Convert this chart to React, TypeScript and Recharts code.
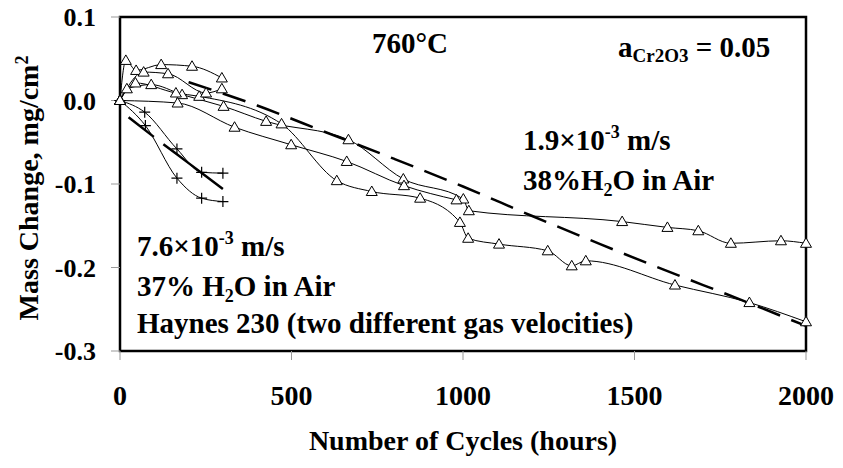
import React from 'react';
import { LineChart, Line, XAxis, YAxis, ReferenceArea } from 'recharts';

type Pair = [number, number];

const xTicks = [0, 500, 1000, 1500, 2000];
const yTicks = [-0.3, -0.2, -0.1, 0, 0.1];

// 1.9e-3 m/s, 38% H2O in air (triangles)
const slowRunA: Pair[] = [
  [0, 0], [20, 0.014], [91, 0.019], [181, 0.007], [302, -0.007], [426, -0.025],
  [666, -0.047], [826, -0.094], [1001, -0.118], [1017, -0.132], [1464, -0.145],
  [1596, -0.152], [1686, -0.156], [1781, -0.171], [1927, -0.168], [2000, -0.171],
];
const slowRunB: Pair[] = [
  [0, 0], [45, 0.021], [163, 0.009], [231, 0.005], [471, -0.028], [632, -0.096],
  [734, -0.109], [875, -0.117], [991, -0.146], [1015, -0.165], [1105, -0.172],
  [1247, -0.18], [1317, -0.198], [1358, -0.192], [1618, -0.221], [1835, -0.242],
  [2000, -0.265],
];
const slowRunC: Pair[] = [
  [0, 0], [168, -0.003], [334, -0.032], [499, -0.053], [661, -0.073], [828, -0.102],
  [981, -0.119],
];
const slowRunD: Pair[] = [
  [0, 0], [17, 0.048], [47, 0.036], [120, 0.043], [210, 0.041], [297, 0.027],
];
const slowRunE: Pair[] = [
  [0, 0], [69, 0.034], [140, 0.032], [251, 0.009], [297, 0.014],
];

// 7.6e-3 m/s, 37% H2O in air (crosses)
const fastRunA: Pair[] = [[0, 0], [72, -0.014], [166, -0.058], [238, -0.086], [300, -0.087]];
const fastRunB: Pair[] = [[0, 0], [74, -0.03], [166, -0.093], [238, -0.117], [300, -0.121]];

// fitted curves (dashed)
const slowFit: Pair[] = [
  [200, 0.022], [400, -0.006], [600, -0.038], [800, -0.07], [1000, -0.103],
  [1200, -0.138], [1400, -0.172], [1600, -0.205], [1800, -0.237], [2000, -0.27],
];
const fastFit: Pair[] = [[25, -0.02], [100, -0.044], [200, -0.075], [300, -0.106]];

const toRows = (pts: Pair[]) => pts.map(([x, y]) => ({ x, y }));

const serif = '"Liberation Serif", "Times New Roman", serif';

const Triangle = (props: any) => {
  const { cx, cy, index } = props;
  if (cx == null || cy == null) return null;
  return (
    <polygon
      key={`t-${index}`}
      points={`${cx},${cy - 5.5} ${cx - 5.5},${cy + 4} ${cx + 5.5},${cy + 4}`}
      fill="#fff"
      stroke="#000"
      strokeWidth={1}
    />
  );
};

const Cross = (props: any) => {
  const { cx, cy, index } = props;
  if (cx == null || cy == null) return null;
  return (
    <path
      key={`c-${index}`}
      d={`M${cx - 5.5},${cy}H${cx + 5.5}M${cx},${cy - 5.5}V${cy + 5.5}`}
      stroke="#000"
      strokeWidth={1.2}
      fill="none"
    />
  );
};

const runs = [slowRunA, slowRunB, slowRunC, slowRunD, slowRunE];
const fastRuns = [fastRunA, fastRunB];

const tickStyle = { fontSize: 26, fontWeight: 700, fill: '#000', fontFamily: serif };

export default function App() {
  return (
    <div style={{ position: 'absolute', left: 0, top: 0, width: 843, height: 468, background: '#fff' }}>
      <LineChart width={843} height={468} margin={{ top: 17, right: 37, bottom: 0, left: 0 }}>
        <XAxis
          dataKey="x"
          type="number"
          domain={[0, 2000]}
          ticks={xTicks}
          height={117}
          axisLine={false}
          tickLine={{ stroke: '#999' }}
          tickSize={9}
          tickMargin={25}
          tick={{ ...tickStyle, fontSize: 28 }}
          interval={0}
        />
        <YAxis
          dataKey="y"
          type="number"
          domain={[-0.3, 0.1]}
          ticks={yTicks}
          width={120}
          axisLine={false}
          tickLine={{ stroke: '#999' }}
          tickSize={9}
          tickMargin={15}
          tick={tickStyle}
          tickFormatter={(v: number) => v.toFixed(1)}
          interval={0}
        />
        <ReferenceArea x1={0} x2={2000} y1={-0.3} y2={0.1} fill="none" stroke="#000" strokeWidth={2.5} />
        <Line
          data={toRows(slowFit)}
          dataKey="y"
          type="monotone"
          stroke="#000"
          strokeWidth={2.5}
          strokeDasharray="24 12"
          dot={false}
          activeDot={false}
          isAnimationActive={false}
        />
        <Line
          data={toRows(fastFit)}
          dataKey="y"
          type="monotone"
          stroke="#000"
          strokeWidth={2.5}
          strokeDasharray="32 12 80"
          dot={false}
          activeDot={false}
          isAnimationActive={false}
        />
        {fastRuns.map((run, i) => (
          <Line
            key={`fast-${i}`}
            data={toRows(run)}
            dataKey="y"
            type="monotone"
            stroke="#000"
            strokeWidth={1}
            dot={Cross}
            activeDot={false}
            isAnimationActive={false}
          />
        ))}
        {runs.map((run, i) => (
          <Line
            key={`slow-${i}`}
            data={toRows(run)}
            dataKey="y"
            type="monotone"
            stroke="#000"
            strokeWidth={1}
            dot={Triangle}
            activeDot={false}
            isAnimationActive={false}
          />
        ))}
      </LineChart>

      <svg
        width={843}
        height={468}
        style={{ position: 'absolute', left: 0, top: 0, pointerEvents: 'none' }}
        fontFamily={serif}
        fontWeight={700}
        fill="#000"
      >
        <text x={372} y={53} fontSize={29}>760°C</text>
        <text x={618} y={57} fontSize={29}>
          a<tspan fontSize={19} dy={5}>Cr2O3</tspan>
          <tspan dy={-5}> = 0.05</tspan>
        </text>
        <text x={523} y={150} fontSize={29}>
          1.9×10<tspan fontSize={18} dy={-12}>-3</tspan>
          <tspan dy={12}> m/s</tspan>
        </text>
        <text x={523} y={190} fontSize={29}>
          38%H<tspan fontSize={18} dy={6}>2</tspan>
          <tspan dy={-6}>O in Air</tspan>
        </text>
        <text x={137} y={256} fontSize={29}>
          7.6×10<tspan fontSize={18} dy={-12}>-3</tspan>
          <tspan dy={12}> m/s</tspan>
        </text>
        <text x={137} y={296} fontSize={29}>
          37% H<tspan fontSize={18} dy={6}>2</tspan>
          <tspan dy={-6}>O in Air</tspan>
        </text>
        <text x={137} y={333} fontSize={29}>Haynes 230 (two different gas velocities)</text>
        <text x={463} y={450} fontSize={28} textAnchor="middle">Number of Cycles (hours)</text>
        <text
          x={0}
          y={0}
          fontSize={28}
          textAnchor="middle"
          transform="translate(38,188) rotate(-90)"
        >
          Mass Change, mg/cm<tspan fontSize={18} dy={-10}>2</tspan>
        </text>
      </svg>
    </div>
  );
}
